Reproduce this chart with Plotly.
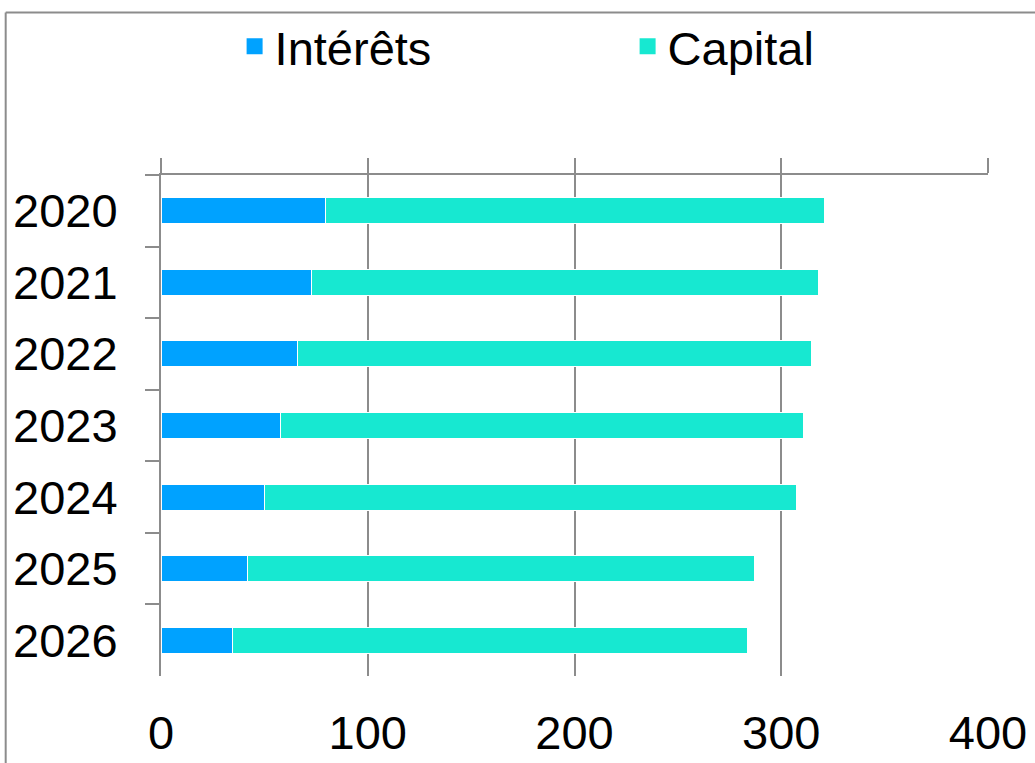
import plotly.graph_objects as go

# Annual repayment split, per year
years = ["2020", "2021", "2022", "2023", "2024", "2025", "2026"]
interets = [79.8, 72.7, 65.8, 57.7, 49.9, 41.8, 34.7]
capital = [240.9, 245.1, 248.9, 253.0, 257.7, 245.1, 249.0]

x_ticks = [0, 100, 200, 300, 400]

BLUE = "#00A2FF"
TEAL = "#17E8D1"
GRID = "#8C8C8C"
FONT = "Liberation Sans, Arial, sans-serif"
FS = 47

fig = go.Figure()
fig.add_trace(go.Bar(
    y=years, x=interets, name="Intérêts", orientation="h", showlegend=False,
    legendgroup="int", marker=dict(color=BLUE, line=dict(color="white", width=1)),
))
fig.add_trace(go.Bar(
    y=years, x=capital, name="Capital", orientation="h", showlegend=False,
    legendgroup="cap", marker=dict(color=TEAL, line=dict(color="white", width=1)),
))
# legend entries with larger square swatches
fig.add_trace(go.Scatter(
    x=[None], y=[None], name="Intérêts", mode="markers", legendgroup="int",
    marker=dict(symbol="square", size=16, color=BLUE),
))
fig.add_trace(go.Scatter(
    x=[None], y=[None], name="Capital", mode="markers", legendgroup="cap",
    marker=dict(symbol="square", size=16, color=TEAL),
))
# invisible trace so the top axis (line + outward ticks) is drawn
fig.add_trace(go.Scatter(
    x=[x_ticks[0], x_ticks[-1]], y=[years[0], years[0]], xaxis="x2",
    mode="markers", marker=dict(opacity=0), showlegend=False, hoverinfo="skip",
))

fig.update_layout(
    width=1035, height=763,
    margin=dict(l=160.5, r=46.5, t=174.7, b=87.3, autoexpand=False),
    paper_bgcolor="white", plot_bgcolor="white",
    barmode="stack", bargap=0.636,
    font=dict(family=FONT, size=FS, color="black"),
    showlegend=True,
    legend=dict(
        orientation="h", x=0.089, xanchor="left", y=1.256, yanchor="middle",
        font=dict(size=FS, family=FONT), entrywidth=348, traceorder="normal",
        bgcolor="rgba(0,0,0,0)",
    ),
    xaxis=dict(
        range=[0, 400], tickvals=x_ticks, showgrid=True, gridcolor=GRID, gridwidth=2,
        showline=False, zeroline=False, ticks="outside", ticklen=16,
        tickcolor="rgba(0,0,0,0)", tickfont=dict(size=FS), side="bottom",
    ),
    xaxis2=dict(
        range=[0, 400], tickvals=x_ticks, overlaying="x", side="top", anchor="y",
        showgrid=False, showline=True, linecolor=GRID, linewidth=2, zeroline=False,
        ticks="outside", ticklen=15, tickwidth=2, tickcolor=GRID, showticklabels=False,
    ),
    yaxis=dict(
        type="category", categoryorder="array", categoryarray=years,
        autorange="reversed", showgrid=False, zeroline=False,
        showline=True, linecolor=GRID, linewidth=2,
        ticks="outside", tickson="boundaries", ticklen=14, tickwidth=2, tickcolor=GRID,
        ticklabelstandoff=32, tickfont=dict(size=FS),
    ),
    shapes=[
        dict(type="line", xref="paper", yref="paper", x0=-0.1878, x1=1.2, y0=1.3242, y1=1.3242,
             line=dict(color=GRID, width=2)),
        dict(type="line", xref="paper", yref="paper", x0=-0.1878, x1=-0.1878, y0=1.3242, y1=-0.3,
             line=dict(color=GRID, width=2)),
    ],
)

fig.write_html("out.html")
